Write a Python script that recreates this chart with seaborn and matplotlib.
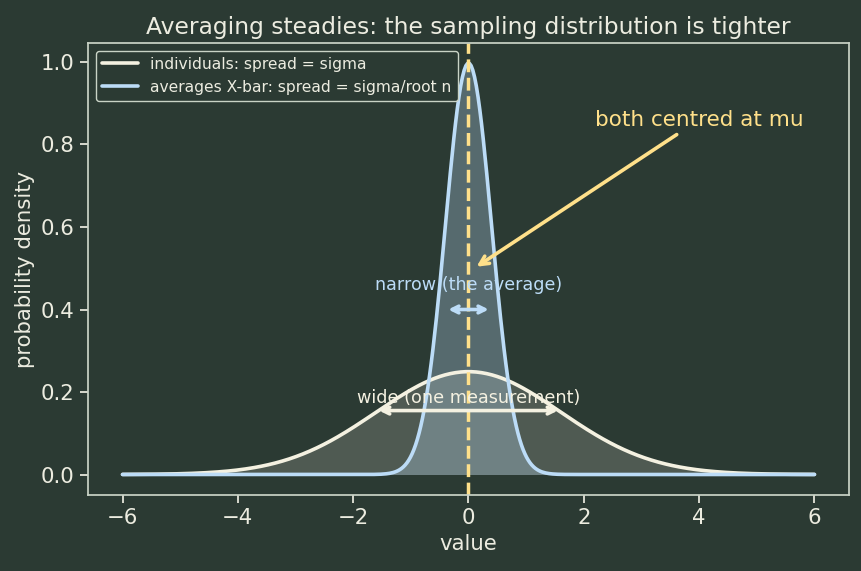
import numpy as np
import pandas as pd
import matplotlib
matplotlib.use("Agg")
import matplotlib.pyplot as plt
import seaborn as sns

# curve parameters (peak 0.25 and 1.0)
mu = 0.0
sigma_ind = 1.6
sigma_avg = 0.4
x_lo, x_hi, n_pts = -6, 6, 400

labels = ["individuals: spread = sigma", "averages X-bar: spread = sigma/root n"]
colors = ["#f4f1e1", "#bcdcf7"]

bg = "#2b3a33"
edge = "#c9d3c6"
txt = "#ecece0"
gold = "#ffe08a"

sns.set_theme(style="dark", rc={
    "figure.facecolor": bg, "axes.facecolor": bg, "axes.edgecolor": edge,
    "axes.labelcolor": txt, "xtick.color": txt, "ytick.color": txt,
    "text.color": txt, "axes.grid": False,
    "xtick.bottom": True, "ytick.left": True,
})
plt.rcParams['font.family'] = ['DejaVu Sans']

x = np.linspace(x_lo, x_hi, n_pts)
def pdf(v, s):
    return np.exp(-0.5 * ((v - mu) / s) ** 2) / (s * np.sqrt(2 * np.pi))

df = pd.DataFrame({
    "value": np.concatenate([x, x]),
    "density": np.concatenate([pdf(x, sigma_ind), pdf(x, sigma_avg)]),
    "group": [labels[0]] * n_pts + [labels[1]] * n_pts,
})

fig, ax = plt.subplots(figsize=(8.62, 5.71), dpi=100)
sns.lineplot(data=df, x="value", y="density", hue="group", palette=colors,
             linewidth=2.6, ax=ax)
ax.fill_between(x, pdf(x, sigma_ind), color=colors[0], alpha=0.18, linewidth=0)
ax.fill_between(x, pdf(x, sigma_avg), color=colors[1], alpha=0.3, linewidth=0)
ax.axvline(mu, color=gold, linestyle="--", linewidth=2.5)

ax.annotate("", xy=(-sigma_avg, 0.40), xytext=(sigma_avg, 0.40),
            arrowprops=dict(arrowstyle="<->", color=colors[1], lw=2.6))
ax.text(0, 0.46, "narrow (the average)", ha="center", va="center",
        color=colors[1], fontsize=12.6)
ax.annotate("", xy=(-sigma_ind, 0.155), xytext=(sigma_ind, 0.155),
            arrowprops=dict(arrowstyle="<->", color=colors[0], lw=2.6))
ax.text(0, 0.185, "wide (one measurement)", ha="center", va="center",
        color=colors[0], fontsize=12.7)
ax.annotate("both centred at mu", xy=(0.1, 0.5), xytext=(4.0, 0.86),
            ha="center", va="center", color=gold, fontsize=15.5,
            arrowprops=dict(arrowstyle="->", color=gold, lw=2.6))

ax.set_xlabel("value", fontsize=15.3)
ax.set_ylabel("probability density", fontsize=15.3)
ax.set_title("Averaging steadies: the sampling distribution is tighter",
             fontsize=16.8, color=txt)
ax.tick_params(labelsize=15.3)
for s in ax.spines.values():
    s.set_color(edge)
leg = ax.legend(loc="upper left", fontsize=11.2, facecolor=bg, edgecolor=edge,
                framealpha=1, handlelength=2.3)
for t in leg.get_texts():
    t.set_color(txt)

fig.subplots_adjust(left=0.102, right=0.985, top=0.925, bottom=0.133)
fig.savefig("out.png", dpi=100, facecolor=bg)
